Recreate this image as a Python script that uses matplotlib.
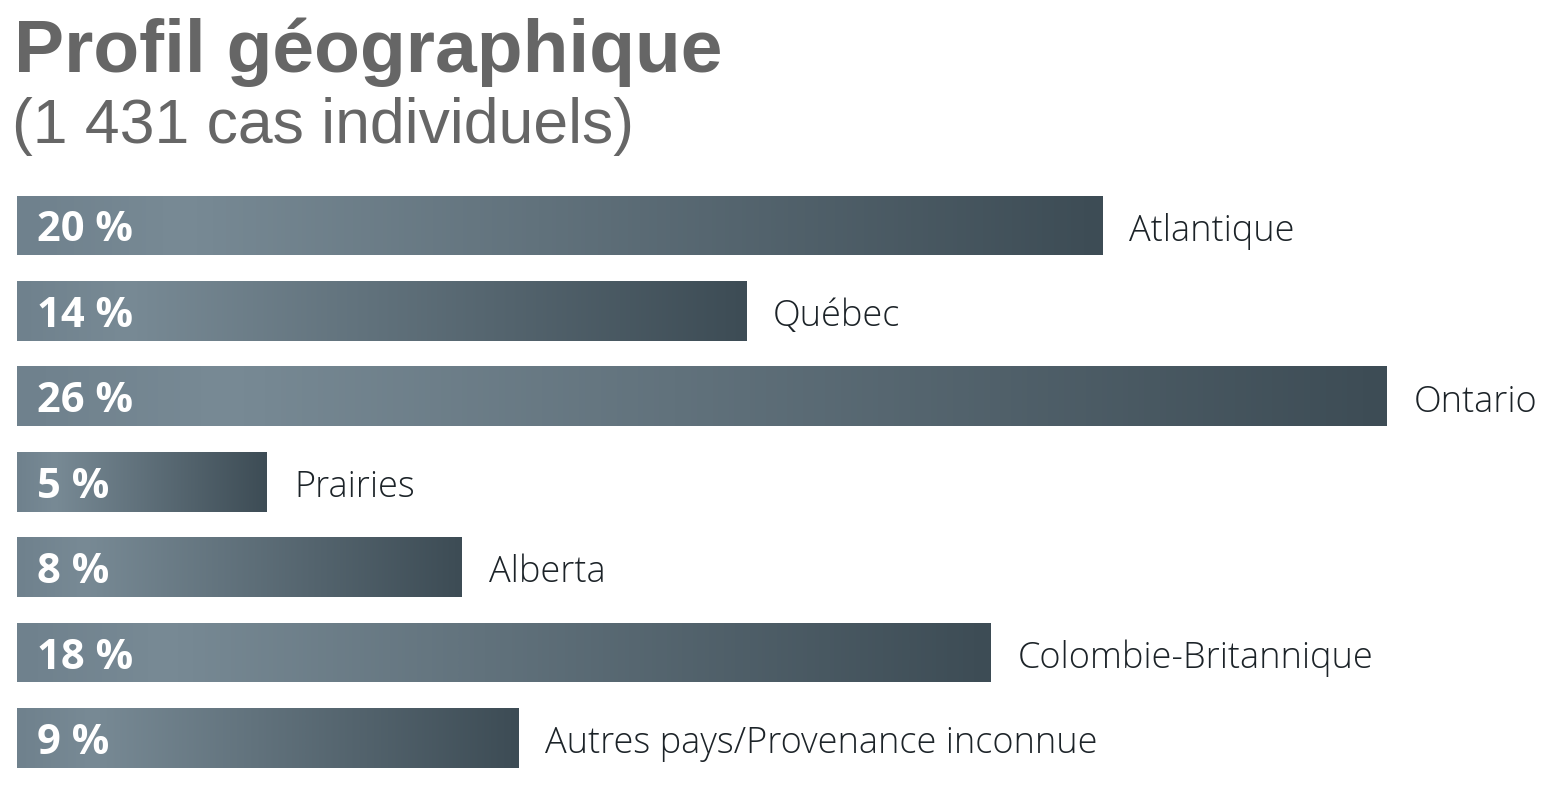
import numpy as np
import matplotlib.pyplot as plt
from matplotlib.colors import LinearSegmentedColormap

# data (bar lengths give the unrounded shares)
regions = ['Atlantique', 'Québec', 'Ontario', 'Prairies', 'Alberta',
           'Colombie-Britannique', 'Autres pays/Provenance inconnue']
shares = [20.27, 13.62, 25.59, 4.67, 8.31, 18.18, 9.36]
shareLabels = ['20 %', '14 %', '26 %', '5 %', '8 %', '18 %', '9 %']

titleText = 'Profil géographique'
subtitleText = '(1 431 cas individuels)'

# colours
titleColor = '#666666'
textColor = '#1c2328'
barCmap = LinearSegmentedColormap.from_list(
    'bar', [(0.0, '#6f818d'), (0.15, '#788a95'), (1.0, '#3d4c55')])

W, H = 1551, 786
fig = plt.figure(figsize=(W / 100, H / 100), dpi=100)

# axes placed in pixels: bars start at x=17, 53.5 px per percent
axLeft, axWidth = 17, 1534
yTop, yBot = 182.8, 780.7
ax = fig.add_axes([axLeft / W, (H - yBot) / H, axWidth / W, (yBot - yTop) / H])
ax.set_xlim(0, axWidth / 53.53)
ax.set_ylim(len(regions) - 0.5, -0.5)
ax.axis('off')

barH = 0.70
grad = np.linspace(0, 1, 256).reshape(1, -1)
for i, (name, val, lab) in enumerate(zip(regions, shares, shareLabels)):
    bars = ax.barh(i, val, height=barH, color='none', edgecolor='none')
    patch = bars.patches[0]
    im = ax.imshow(grad, cmap=barCmap, aspect='auto', interpolation='bicubic',
                   extent=[0, val, i + barH / 2, i - barH / 2], zorder=1)
    im.set_clip_path(patch)
    ax.annotate(lab, (0, i), xytext=(14.5, -11.5), textcoords='offset points',
                ha='left', va='baseline', color='white', fontsize=30,
                fontweight='bold', family=['Open Sans', 'DejaVu Sans'], zorder=3)
    ax.annotate(name, (val, i), xytext=(19.5, -11), textcoords='offset points',
                ha='left', va='baseline', color=textColor, fontsize=26,
                fontweight='light', family=['Open Sans', 'DejaVu Sans'], zorder=3)

fig.text(14 / W, 1 - 72 / H, titleText, ha='left', va='baseline',
         color=titleColor, fontsize=54, fontweight='bold',
         family=['Liberation Sans', 'DejaVu Sans'])
fig.text(12 / W, 1 - 143 / H, subtitleText, ha='left', va='baseline',
         color=titleColor, fontsize=45,
         family=['Liberation Sans Narrow', 'Liberation Sans', 'DejaVu Sans'])

fig.savefig('out.png', dpi=100)
